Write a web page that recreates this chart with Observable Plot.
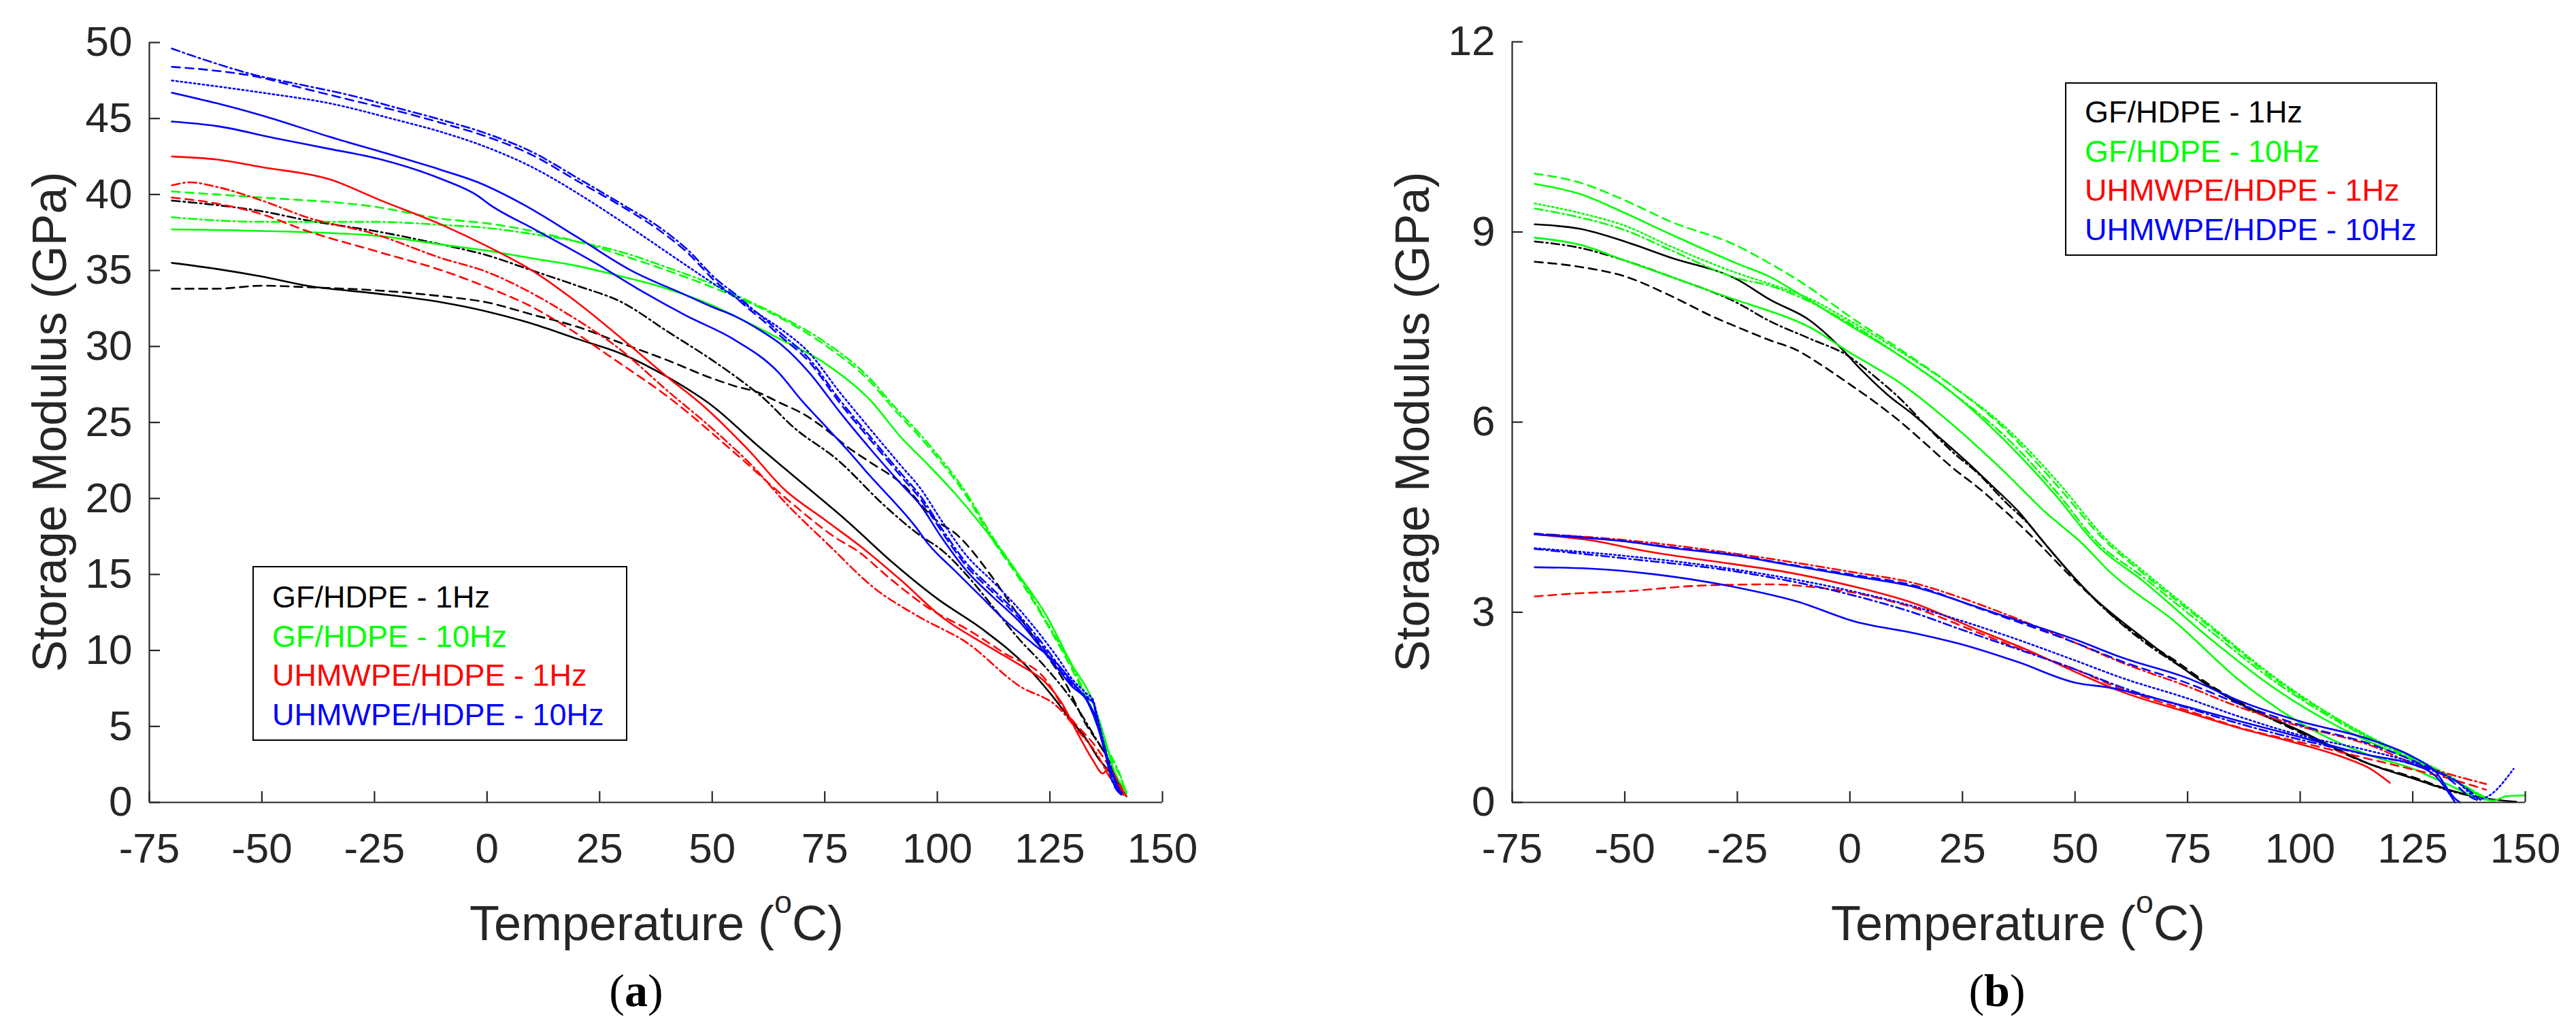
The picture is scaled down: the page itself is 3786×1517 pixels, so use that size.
<!DOCTYPE html>
<html>
<head>
<meta charset="utf-8">
<script src="https://cdn.jsdelivr.net/npm/d3@7"></script>
<script src="https://cdn.jsdelivr.net/npm/@observablehq/plot@0.6"></script>
<style>
html, body { margin: 0; padding: 0; background: #fff; }
#page { position: relative; width: 3786px; height: 1517px; overflow: hidden; background: #fff;
  font-family: 'Liberation Sans', Arial, Helvetica, sans-serif; color: #262626; }
.panel { position: absolute; top: 0; }
.xlabel { position: absolute; width: 1000px; text-align: center; font-size: 72px; line-height: 72px; white-space: nowrap; }
.xlabel sup { font-size: 0.65em; vertical-align: baseline; position: relative; top: -0.85em; line-height: 0; }
.ylabel { position: absolute; width: 1200px; height: 80px; line-height: 80px; text-align: center; font-size: 70px;
  transform: rotate(-90deg); white-space: nowrap; }
.caption { position: absolute; width: 200px; text-align: center; font-family: 'Liberation Serif', 'Times New Roman', serif;
  font-size: 68px; line-height: 68px; color: #000; }
.caption b { font-weight: bold; }
.legend { position: absolute; border: 2px solid #000; box-sizing: border-box; background: #fff; font-size: 45px; }
.legend div { height: 57.5px; line-height: 57.5px; white-space: nowrap; }
</style>
</head>
<body>
<div id="page"></div>
<script>
// ---------- axes ----------
const xTicks = [-75, -50, -25, 0, 25, 50, 75, 100, 125, 150];
const yTicksA = [0, 5, 10, 15, 20, 25, 30, 35, 40, 45, 50];
const yTicksB = [0, 3, 6, 9, 12];
const xLabelText = "Temperature (";
const xLabelSup = "o";
const xLabelEnd = "C)";
const yLabelText = "Storage Modulus (GPa)";
const legendLabels = ["GF/HDPE - 1Hz", "GF/HDPE - 10Hz", "UHMWPE/HDPE - 1Hz", "UHMWPE/HDPE - 10Hz"];
const groupColors = ["#000000", "#00ff00", "#ff0000", "#0000ff"];

// ---------- panel (a) data: [temperature °C, storage modulus GPa] ----------
const a_gf1_solid = [[-70,35.5],[-60,35.1],[-50,34.6],[-40,34.0],[-25,33.5],[-10,32.9],[0,32.3],[10,31.5],[20,30.5],[30,29.5],[40,28.0],[50,26.1],[60,23.5],[70,21.0],[80,18.5],[90,15.8],[100,13.4],[110,11.4],[120,8.9],[125,7.2],[130,5.3],[133,4.2],[136,2.8],[138,2.1],[140,1.3],[142,0.4]];
const a_gf1_dashed = [[-70,33.8],[-60,33.8],[-50,34.0],[-40,33.9],[-25,33.7],[-10,33.3],[0,32.9],[10,32.1],[20,31.3],[30,30.2],[40,29.1],[50,27.9],[55,27.4],[60,27.0],[65,26.3],[70,25.6],[75,24.6],[80,23.4],[85,22.4],[92,21.0],[100,18.5],[104,17.7],[112,14.9],[118,12.3],[124,9.8],[128.7,7.7],[132.7,5.3],[137.4,3.1],[141.4,0.5]];
const a_gf1_dashdot = [[-70,39.6],[-60,39.3],[-50,38.9],[-40,38.3],[-25,37.6],[-10,36.7],[0,36.0],[10,35.0],[20,34.0],[30,32.9],[40,31.0],[50,29.1],[58,27.4],[61,26.7],[68,24.7],[78,22.5],[88,19.6],[96,17.6],[101,16.6],[107,14.8],[112,13.0],[118,10.8],[124,8.9],[130,6.7],[135,4.3],[138,2.8],[141,0.6]];
const a_gf10_solid = [[-70,37.7],[-50,37.6],[-25,37.3],[-10,36.7],[0,36.3],[10,35.8],[20,35.3],[30,34.6],[40,33.8],[50,32.7],[55,32.0],[65,30.5],[75,28.9],[85,26.5],[92,24.0],[98,22.2],[104,20.3],[111,17.8],[118,15.0],[124,12.4],[130,9.0],[134,7.0],[137,4.4],[139,2.3],[142,0.7]];
const a_gf10_dashed = [[-70,40.2],[-60,40.0],[-50,39.8],[-25,39.2],[-10,38.4],[0,38.1],[10,37.6],[20,36.9],[30,36.0],[40,35.0],[50,33.9],[58,32.9],[65,31.9],[75,30.1],[85,27.7],[90,26.0],[98,23.4],[107,19.9],[112,17.4],[118,14.8],[124,11.9],[130,8.7],[134,6.2],[137.4,3.6],[141,1.4],[142,0.6]];
const a_gf10_dashdot = [[-70,38.5],[-50,38.2],[-25,38.2],[-10,38.0],[0,37.8],[10,37.4],[20,36.9],[30,36.2],[40,35.2],[50,34.1],[58,33.0],[65,32.0],[75,30.3],[85,27.9],[90,26.2],[98,23.6],[107,20.1],[112,17.6],[118,15.0],[124,12.0],[130,8.9],[134,6.4],[137.4,3.8],[141,1.5],[142,0.6]];
const a_uh1_solid = [[-70,42.5],[-60,42.3],[-50,41.8],[-35,41.0],[-23.5,39.6],[-10,38.0],[0,36.6],[10,35.0],[20,32.9],[30,30.5],[40,28.0],[48,26.1],[58,23.2],[66,20.6],[75,18.6],[84,16.6],[92,14.6],[101,12.2],[110,10.5],[118,9.1],[124,7.9],[127.5,6.6],[131.6,4.3],[134.5,2.8],[136.8,1.9],[138,2.3],[140.3,1.1],[142,0.4]];
const a_uh1_dashed = [[-70,39.8],[-60,39.4],[-50,38.7],[-40,37.6],[-25,36.3],[-10,35.0],[0,33.9],[10,32.6],[17,31.4],[28,29.2],[41,26.5],[55,23.0],[68,19.6],[78,17.3],[82,16.6],[90,14.6],[98.5,12.7],[106.6,11.4],[115,9.8],[124,8.1],[128.7,5.9],[135.6,3.5],[140.3,1.3],[141.5,0.6]];
const a_uh1_dashdot = [[-70,40.6],[-66,40.8],[-60,40.5],[-50,39.6],[-40,38.5],[-25,37.4],[-10,35.8],[0,34.9],[10,33.5],[17,32.3],[30,29.7],[40,27.1],[50,24.6],[60,21.8],[66,19.8],[76,16.9],[86,14.1],[96,12.2],[106.6,10.5],[118,7.7],[127,6.2],[131,4.8],[135.6,3.1],[138,1.8],[141.4,0.5]];
const a_uh10_solidU = [[-70,46.7],[-60,46.0],[-50,45.2],[-35,43.8],[-20,42.5],[-10,41.6],[-2,40.8],[8,39.35],[20,37.2],[32,35.0],[44,33.4],[50,32.6],[55,32.0],[61,31.0],[65,30.2],[71.5,28.3],[78.3,25.7],[85,23.3],[91.8,21.0],[96.4,19.5],[100.8,17.5],[106.6,15.2],[112.4,13.5],[118.2,11.9],[124,9.8],[127,8.7],[130,7.6],[133,6.8],[135.6,5.0],[137.9,2.6],[140.5,0.6]];
const a_uh10_solidL = [[-70,44.8],[-60,44.5],[-47,43.7],[-35,43.0],[-23.5,42.3],[-10,41.0],[-2,39.9],[0.5,39.35],[10.6,37.7],[24,35.5],[34,33.7],[44.4,32.0],[54.6,30.5],[64.7,28.3],[70,26.4],[75,24.8],[80,23.2],[85,21.5],[90,19.9],[95,18.2],[98,17.0],[103.7,15.3],[109.5,13.6],[115.3,11.9],[121,10.5],[127,9.0],[130,7.9],[133.3,6.7],[135.6,5.3],[137.9,2.8],[140.3,0.9]];
const a_uh10_dotted = [[-70,47.5],[-50,46.7],[-35,46.0],[-20,44.9],[-10,44.1],[0,43.1],[10,41.8],[20,40.1],[24,39.35],[34,37.4],[44.4,35.3],[51,34.0],[55.3,33.2],[60,32.2],[65,31.2],[71.5,29.6],[78.3,27.0],[85,24.6],[91.8,22.2],[96.4,20.6],[100.8,18.6],[106.6,16.2],[112.4,14.5],[118.2,12.7],[124,10.6],[127,9.4],[130,8.1],[133,7.2],[134.5,6.8],[135.6,5.6],[137.4,3.4],[139,1.8],[141.2,0.5]];
const a_uh10_dashed = [[-70,48.4],[-62,48.2],[-52,47.8],[-41,47.0],[-30,46.2],[-20,45.5],[-10,44.7],[0,43.8],[10,42.6],[20,40.9],[30,39.2],[38,37.7],[44.4,36.2],[51,34.2],[55.3,33.2],[58,32.5],[61.3,31.7],[64.7,30.8],[71.5,29.0],[78.3,26.3],[85,23.9],[91.8,21.5],[96.4,19.9],[100.8,17.9],[106.6,15.5],[112.4,13.8],[118.2,12.1],[124,10.0],[127,8.8],[130,7.7],[133,6.9],[134.5,6.6],[135.6,5.3],[137.4,3.1],[138.6,1.6],[140.9,0.5]];
const a_uh10_dashdot = [[-70,49.6],[-60,48.6],[-52,47.9],[-41,47.2],[-30,46.5],[-20,45.7],[-10,44.9],[0,44.0],[10,42.8],[20,41.1],[30,39.35],[38,37.9],[44.4,36.4],[51,34.4],[55.3,33.4],[58,32.7],[61.3,31.9],[64.7,31.0],[71.5,29.2],[78.3,26.5],[85,24.1],[91.8,21.7],[96.4,20.1],[100.8,18.1],[106.6,15.7],[112.4,14.0],[118.2,12.3],[124,10.2],[127,9.0],[130,7.8],[133,7.0],[134.5,6.7],[135.6,5.4],[137.4,3.2],[138.6,1.7],[140.9,0.5]];

// ---------- panel (b) data ----------
const b_gf1_solid = [[-70,9.12],[-60,9.05],[-50,8.85],[-40,8.6],[-25,8.25],[-17.7,7.93],[-9,7.61],[-2.7,7.22],[2.6,6.82],[8.4,6.43],[14.2,6.11],[20,5.75],[25.7,5.39],[31.5,5.0],[37.3,4.6],[43.1,4.1],[53.4,3.28],[65,2.6],[72.2,2.21],[79.4,1.85],[86.6,1.56],[100,1.13],[115.6,0.6],[125,0.38],[134.4,0.17],[141.6,0.06],[148,0.01]];
const b_gf1_dashdot = [[-70,8.85],[-60,8.75],[-50,8.55],[-40,8.3],[-25,7.88],[-17.7,7.59],[-9,7.32],[-0.3,7.04],[5.5,6.72],[11.3,6.36],[17.1,5.93],[22.8,5.53],[28.6,5.18],[34.4,4.75],[40.2,4.35],[43.1,4.1],[53,3.3],[65,2.55],[72.2,2.2],[86.6,1.55],[100,1.12],[115.6,0.6],[125,0.38],[134.4,0.16],[141.6,0.05]];
const b_gf1_dashed = [[-70,8.53],[-60,8.45],[-50,8.3],[-40,8.0],[-30,7.65],[-25,7.5],[-17.7,7.29],[-11.9,7.14],[-6.1,6.89],[-0.3,6.61],[5.5,6.32],[11.3,6.0],[17.1,5.64],[22.8,5.28],[28.6,4.96],[34.4,4.6],[40.2,4.21],[49,3.57],[57.7,2.99],[65,2.57],[72.2,2.24],[80,1.85],[90,1.45],[100,1.1],[115.6,0.6],[125,0.4],[134.4,0.17],[141.6,0.05]];
const b_gf10_solidU = [[-70,9.76],[-60,9.6],[-50,9.3],[-40,8.97],[-25,8.5],[-17.7,8.29],[-10.8,8.0],[-0.3,7.54],[11.3,7.04],[22.8,6.46],[34.4,5.71],[46,4.82],[54.7,4.07],[65,3.5],[79.4,2.62],[93.9,1.82],[108.3,1.2],[118.4,0.86],[125,0.66],[132.9,0.4],[138.7,0.15],[141.6,0.05]];
const b_gf10_solidL = [[-70,8.91],[-60,8.8],[-50,8.55],[-40,8.3],[-25,7.92],[-17.7,7.75],[-9,7.5],[-0.3,7.11],[11.3,6.61],[22.8,5.96],[34.4,5.21],[43.1,4.6],[51.8,4.07],[57.7,3.64],[72.2,2.85],[86.6,1.92],[101.1,1.21],[115.6,0.74],[125,0.53],[132.9,0.28],[140.1,0.06],[143,0.03],[145.9,0.1],[150,0.11]];
const b_gf10_dashed = [[-70,9.92],[-60,9.78],[-50,9.5],[-40,9.17],[-25,8.78],[-17.7,8.5],[-10,8.17],[-3.8,7.86],[-0.3,7.68],[11.3,7.14],[22.8,6.57],[34.4,5.89],[46,5.0],[56.5,4.14],[65,3.62],[79.4,2.8],[93.9,1.97],[108.3,1.31],[118.4,0.92],[125,0.7],[132.9,0.42],[138.7,0.17],[141.6,0.06]];
const b_gf10_dotted = [[-70,9.45],[-60,9.3],[-50,9.1],[-40,8.78],[-25,8.35],[-17.7,8.18],[-9,7.95],[-0.3,7.61],[11.3,7.11],[22.8,6.57],[34.4,5.93],[46,5.07],[57.1,4.14],[65,3.66],[79.4,2.83],[93.9,2.0],[108.3,1.32],[118.4,0.93],[125,0.71],[132.9,0.43],[138.7,0.17],[141.6,0.06]];
const b_gf10_dashdot = [[-70,9.37],[-60,9.23],[-50,9.03],[-40,8.72],[-25,8.27],[-17.7,8.15],[-0.3,7.57],[11.3,7.04],[22.8,6.46],[34.4,5.78],[46,4.89],[55,4.1],[65,3.56],[79.4,2.74],[93.9,1.93],[108.3,1.28],[118.4,0.9],[125,0.68],[132.9,0.41],[138.7,0.16],[141.6,0.05]];
const b_uh1_solid = [[-70,4.23],[-58,4.14],[-45,3.96],[-25,3.75],[-14.6,3.64],[0,3.42],[14.3,3.14],[28.8,2.71],[38.9,2.42],[50,2.06],[60.6,1.74],[75,1.42],[86.6,1.17],[100,0.92],[110,0.7],[115.6,0.53],[119.9,0.31]];
const b_uh1_dashed = [[-70,3.25],[-60,3.3],[-50,3.33],[-33.4,3.42],[-17.5,3.44],[-7.3,3.39],[0,3.32],[7.1,3.21],[14.3,3.07],[28.8,2.67],[40.4,2.35],[50,2.1],[60.6,1.78],[75,1.45],[86.6,1.18],[100,0.95],[115.6,0.68],[125,0.52],[132.9,0.38],[141.3,0.2]];
const b_uh1_dashdot = [[-70,4.24],[-50,4.14],[-25,3.92],[0,3.64],[14.3,3.46],[25,3.22],[36,2.93],[50,2.52],[60.6,2.2],[75,1.83],[86.6,1.5],[100,1.2],[115.6,0.9],[125,0.62],[132.9,0.45],[141.3,0.29]];
const b_uh10_solidU = [[-70,4.23],[-60,4.18],[-50,4.12],[-40,4.02],[-25,3.89],[-14.6,3.76],[0,3.58],[14.3,3.4],[28.8,3.07],[36,2.9],[50,2.57],[60.6,2.28],[75,1.96],[86.6,1.6],[100,1.28],[115.6,0.99],[125,0.72],[130,0.49],[134.4,0.06],[135.5,0.0]];
const b_uh10_solidL = [[-70,3.71],[-58,3.69],[-43.5,3.6],[-25,3.39],[-11.7,3.17],[1.3,2.85],[14.3,2.67],[25,2.49],[37.5,2.21],[50,1.89],[57.7,1.81],[72.2,1.56],[86.6,1.28],[100,1.03],[115.6,0.74],[125,0.6],[130,0.42],[134.4,0.0]];
const b_uh10_dashed = [[-70,4.24],[-60,4.19],[-50,4.12],[-40,4.03],[-25,3.9],[-14.6,3.77],[0,3.6],[14.3,3.42],[28.8,3.06],[36,2.88],[50,2.52],[60.6,2.22],[75,1.88],[86.6,1.55],[100,1.22],[115.6,0.92],[125,0.66],[132.9,0.38],[138,0.08],[140,0.02]];
const b_uh10_dotted = [[-70,4.01],[-50,3.89],[-25,3.67],[0,3.34],[14.3,3.09],[25,2.86],[36,2.6],[50,2.24],[60.6,1.96],[75,1.64],[86.6,1.35],[100,1.06],[115.6,0.81],[125,0.63],[134.4,0.35],[140,0.06],[147.4,0.53]];
const b_uh10_dashdot = [[-70,4.0],[-50,3.85],[-25,3.64],[0,3.28],[14.3,2.99],[25,2.72],[36,2.45],[50,2.1],[60.6,1.81],[75,1.49],[86.6,1.24],[100,0.99],[115.6,0.74],[125,0.6],[135.8,0.28],[140,0.04]];

// ---------- series tables (group index -> colour, style -> dash) ----------
const seriesA = [
  {g: 0, s: "solid", d: a_gf1_solid}, {g: 0, s: "dashed", d: a_gf1_dashed}, {g: 0, s: "dashdot", d: a_gf1_dashdot},
  {g: 1, s: "solid", d: a_gf10_solid}, {g: 1, s: "dashed", d: a_gf10_dashed}, {g: 1, s: "dashdot", d: a_gf10_dashdot},
  {g: 2, s: "solid", d: a_uh1_solid}, {g: 2, s: "dashed", d: a_uh1_dashed}, {g: 2, s: "dashdot", d: a_uh1_dashdot},
  {g: 3, s: "solid", d: a_uh10_solidU}, {g: 3, s: "solid", d: a_uh10_solidL}, {g: 3, s: "dotted", d: a_uh10_dotted},
  {g: 3, s: "dashed", d: a_uh10_dashed}, {g: 3, s: "dashdot", d: a_uh10_dashdot}
];
const seriesB = [
  {g: 0, s: "solid", d: b_gf1_solid}, {g: 0, s: "dashdot", d: b_gf1_dashdot}, {g: 0, s: "dashed", d: b_gf1_dashed},
  {g: 1, s: "solid", d: b_gf10_solidU}, {g: 1, s: "solid", d: b_gf10_solidL}, {g: 1, s: "dashed", d: b_gf10_dashed},
  {g: 1, s: "dotted", d: b_gf10_dotted}, {g: 1, s: "dashdot", d: b_gf10_dashdot},
  {g: 2, s: "solid", d: b_uh1_solid}, {g: 2, s: "dashed", d: b_uh1_dashed}, {g: 2, s: "dashdot", d: b_uh1_dashdot},
  {g: 3, s: "solid", d: b_uh10_solidU}, {g: 3, s: "solid", d: b_uh10_solidL}, {g: 3, s: "dashed", d: b_uh10_dashed},
  {g: 3, s: "dotted", d: b_uh10_dotted}, {g: 3, s: "dashdot", d: b_uh10_dashdot}
];
const dashes = {solid: null, dashed: "12,8", dotted: "2.5,4", dashdot: "12,5,2.5,5"};

const axisColor = "#262626";
const FONT = "'Liberation Sans', Arial, Helvetica, sans-serif";

function makePanel(series, yMax, yTicks, ml, mr, mt) {
  const W = 1893, H = 1300, mb = 121;
  const fw = W - ml - mr, fh = H - mt - mb;
  return Plot.plot({
    width: W, height: H,
    marginLeft: ml, marginRight: mr, marginTop: mt, marginBottom: mb,
    x: {domain: [-75, 150]},
    y: {domain: [0, yMax]},
    style: {fontFamily: FONT, fontSize: "62px", color: axisColor, background: "#fff", overflow: "visible"},
    marks: [
      ...series.map(sr => Plot.line(sr.d, {
        x: d => d[0], y: d => d[1],
        stroke: groupColors[sr.g], strokeWidth: 2.6,
        strokeDasharray: dashes[sr.s], curve: "monotone-x"
      })),
      Plot.ruleY([0], {stroke: axisColor, strokeWidth: 2.2}),
      Plot.ruleX([-75], {stroke: axisColor, strokeWidth: 2.2}),
      Plot.tickX(xTicks, {x: d => d, insetTop: fh - 16, stroke: axisColor, strokeWidth: 2.2}),
      Plot.tickY(yTicks, {y: d => d, insetRight: fw - 16, stroke: axisColor, strokeWidth: 2.2}),
      Plot.axisX({ticks: xTicks, tickSize: 0, tickPadding: 44, tickFormat: d => String(d), fontSize: 62, label: null}),
      Plot.axisY({ticks: yTicks, tickSize: 0, tickPadding: 25, tickFormat: d => String(d), fontSize: 62, label: null})
    ]
  });
}

const page = document.getElementById("page");

function place(el, left) {
  el.classList.add("panel");
  el.style.left = left + "px";
  page.appendChild(el);
}
place(makePanel(seriesA, 50, yTicksA, 219, 185, 62), 0);
place(makePanel(seriesB, 12, yTicksB, 329, 75, 61), 1893);

function addXLabel(cx) {
  const d = document.createElement("div");
  d.className = "xlabel";
  d.style.left = (cx - 500) + "px";
  d.style.top = (1382 - 61) + "px";
  d.append(xLabelText);
  const s = document.createElement("sup");
  s.textContent = xLabelSup;
  d.append(s);
  d.append(xLabelEnd);
  page.appendChild(d);
}
function addYLabel(cx, cy) {
  const d = document.createElement("div");
  d.className = "ylabel";
  d.style.left = (cx - 600) + "px";
  d.style.top = (cy - 40) + "px";
  d.textContent = yLabelText;
  page.appendChild(d);
}
function addCaption(cx, letter) {
  const d = document.createElement("div");
  d.className = "caption";
  d.style.left = (cx - 100) + "px";
  d.style.top = (1481 - 59) + "px";
  d.append("(");
  const b = document.createElement("b");
  b.textContent = letter;
  d.append(b);
  d.append(")");
  page.appendChild(d);
}
function addLegend(left, top, width, height, textLeft, padTop) {
  const box = document.createElement("div");
  box.className = "legend";
  Object.assign(box.style, {left: left + "px", top: top + "px", width: width + "px", height: height + "px",
    paddingLeft: (textLeft - left - 2) + "px", paddingTop: padTop + "px"});
  legendLabels.forEach((t, i) => {
    const r = document.createElement("div");
    r.textContent = t;
    r.style.color = groupColors[i];
    box.appendChild(r);
  });
  page.appendChild(box);
}

addXLabel(965);
addXLabel(2966);
addYLabel(73, 620);
addYLabel(2076, 620);
addCaption(935, "a");
addCaption(2935, "b");
addLegend(371, 832, 551, 257, 400, 15);
addLegend(3035, 121, 547, 255, 3064, 13);
</script>
</body>
</html>
